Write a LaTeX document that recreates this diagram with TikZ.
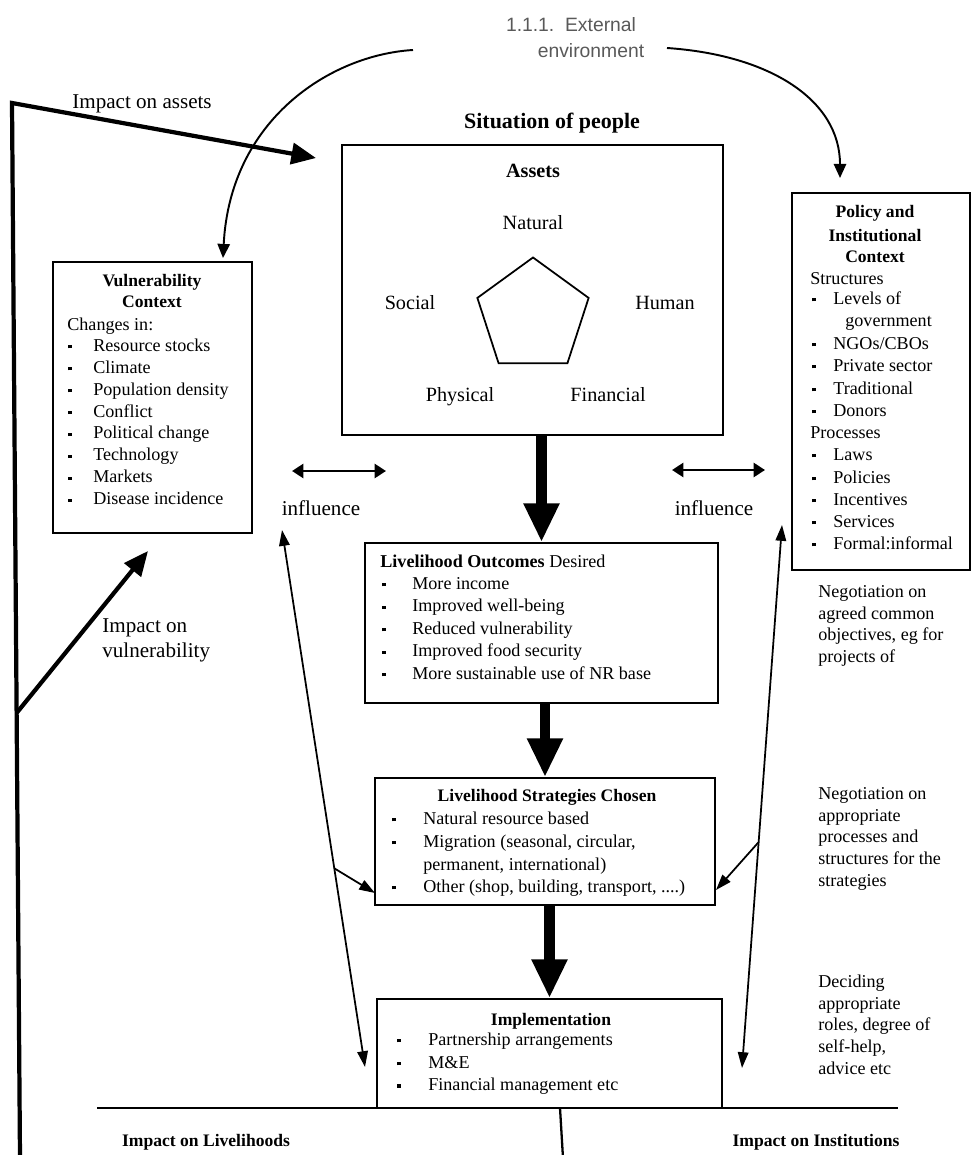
\documentclass[tikz,border=0pt]{standalone}
\usepackage{fontspec}
\setmainfont{Liberation Serif}
\newfontfamily\titlefont{Liberation Sans}
\usetikzlibrary{arrows.meta,shapes.geometric}
\newcommand{\bl}{\rule[0.35ex]{1.8pt}{1.8pt}}
\tikzset{
	box/.style 2 args={draw,line width=1pt,minimum width=#1*0.02cm,minimum height=#2*0.02cm,inner sep=0pt},
	txt/.style={inner sep=0pt,anchor=west,text height=7pt,text depth=2pt,font=\fontsize{10.3}{12}\selectfont},
	head/.style={inner sep=0pt,text height=7pt,text depth=2pt,font=\bfseries\fontsize{10}{12}\selectfont},
	lab/.style={inner sep=0pt,text height=8pt,text depth=2.5pt,font=\fontsize{11.5}{13}\selectfont},
	bigl/.style={inner sep=0pt,text height=8.5pt,text depth=2.5pt,font=\fontsize{12}{14}\selectfont},
	bigarrow/.style={line width=6pt,-{Triangle[length=22pt,width=19pt]}},
	heavy/.style={line width=2.4pt},
	thinline/.style={line width=1pt},
	infl/.style={line width=1.5pt,{Triangle[length=6.5pt,width=8pt]}-{Triangle[length=6.5pt,width=8pt]}},
	curv/.style={line width=1.1pt,-{Triangle[length=8pt,width=7pt]}}
}

\begin{document}
\begin{tikzpicture}[x=0.02cm,y=-0.02cm]
	\useasboundingbox (0,0) rectangle (973,1155);

	\node[inner sep=0pt,font=\titlefont\fontsize{11}{13}\selectfont,text=black!65] (ext1) at (571,25) {1.1.1.\ \ External};
	\node[inner sep=0pt,font=\titlefont\fontsize{11}{13}\selectfont,text=black!65] (ext2) at (591,51) {environment};
	\node[inner sep=0pt,font=\bfseries\fontsize{12.5}{14}\selectfont] (sit) at (552,123) {Situation of people};

	\node[box={199}{271}] (vuln) at (152.5,397.5) {};
	\node[box={381}{290}] (assets) at (532.5,290) {};
	\node[box={178}{377}] (policy) at (881,381.5) {};
	\node[box={353}{160}] (outc) at (541.5,623) {};
	\node[box={340}{127}] (strat) at (545,841.5) {};
	\node[box={345}{109}] (impl) at (549.5,1053.5) {};

	\node[head,font=\bfseries\fontsize{11.5}{13}\selectfont] (ast) at (533,173) {Assets};
	\node[draw,line width=1pt,regular polygon,regular polygon sides=5,minimum size=117*0.02cm,inner sep=0pt] (pent) at (533,316) {};
	\node[lab] (nat) at (533,225) {Natural};
	\node[lab] (soc) at (410,305) {Social};
	\node[lab] (hum) at (665,305) {Human};
	\node[lab] (phy) at (460,397) {Physical};
	\node[lab] (fin) at (608,397) {Financial};

	\node[head] (vt1) at (152,282) {Vulnerability};
	\node[head] (vt2) at (152,303) {Context};
	\node[txt] (vch) at (67,326) {Changes in:};
	\foreach \t [count=\i from 0] in {Resource stocks,Climate,Population density,Conflict,Political change,Technology,Markets,Disease incidence}{
		\node[txt] (vd\i) at (68,347+21.9*\i) {\bl};
		\node[txt] (vi\i) at (93,347+21.9*\i) {\t};
	}

	\node[head] (pt1) at (875,213) {Policy and};
	\node[head] (pt2) at (875,237) {Institutional};
	\node[head] (pt3) at (875,258) {Context};
	\node[txt] (pst) at (810,280) {Structures};
	\node[txt] (ppr) at (810,434) {Processes};
	\node[txt] (pgov) at (845,322) {government};
	\foreach \t/\y [count=\i] in {Levels of/300,NGOs\slash CBOs/345,Private sector/367,Traditional/390,Donors/412,Laws/456,Policies/479,Incentives/501,Services/523,Formal:informal/545}{
		\node[txt] (pd\i) at (812,\y) {\bl};
		\node[txt] (pi\i) at (833,\y) {\t};
	}

	\node[txt] (ot) at (380,563) {\textbf{Livelihood Outcomes} Desired};
	\foreach \t [count=\i from 0] in {More income,Improved well-being,Reduced vulnerability,Improved food security,More sustainable use of NR base}{
		\node[txt] (od\i) at (382,585+22.5*\i) {\bl};
		\node[txt] (oi\i) at (412,585+22.5*\i) {\t};
	}

	\node[head] (st) at (547,797) {Livelihood Strategies Chosen};
	\node[txt] (sd1) at (392,820) {\bl};
	\node[txt] (si1) at (423,820) {Natural resource based};
	\node[txt] (sd2) at (392,843) {\bl};
	\node[txt] (si2) at (423,843) {Migration (seasonal, circular,};
	\node[txt] (si2b) at (423,866) {permanent, international)};
	\node[txt] (sd3) at (392,888) {\bl};
	\node[txt] (si3) at (423,888) {Other (shop, building, transport, ....)};

	\node[head] (it) at (551,1021) {Implementation};
	\node[txt] (id1) at (397,1041) {\bl};
	\node[txt] (ii1) at (428,1041) {Partnership arrangements};
	\node[txt] (id2) at (397,1064) {\bl};
	\node[txt] (ii2) at (428,1064) {M\&E};
	\node[txt] (id3) at (397,1086) {\bl};
	\node[txt] (ii3) at (428,1086) {Financial management etc};

	\foreach \t [count=\i from 0] in {Negotiation on,agreed common,{objectives, eg for},projects of}
		\node[txt] (na\i) at (818,593+21.7*\i) {\t};
	\foreach \t [count=\i from 0] in {Negotiation on,appropriate,processes and,structures for the,strategies}
		\node[txt] (nb\i) at (818,795+21.7*\i) {\t};
	\foreach \t [count=\i from 0] in {Deciding,appropriate,{roles, degree of},{self-help,},advice etc}
		\node[txt] (nc\i) at (818,983+21.7*\i) {\t};

	\coordinate (ctop) at (12,103);
	\coordinate (cbot) at (20,1158);
	\coordinate (cbr) at (16.6,713);
	\coordinate (atip) at (316,158);
	\coordinate (vtip) at (148,551);
	\draw[heavy,-{Triangle[length=14pt,width=12pt]}] (cbot) -- (ctop) -- (atip);
	\draw[heavy,-{Triangle[length=14pt,width=12pt]}] (cbr) -- (vtip);
	\node[bigl] (ia) at (142,103) {Impact on assets};
	\node[bigl,anchor=west] (iv1) at (102,627) {Impact on};
	\node[bigl,anchor=west] (iv2) at (102,652) {vulnerability};

	\coordinate (c1s) at (413,50);
	\coordinate (vtop) at (223,258);
	\coordinate (c2s) at (667,48);
	\coordinate (ptop) at (840,178);
	\draw[curv] (c1s) .. controls (330,55) and (230,120) .. (vtop);
	\draw[curv] (c2s) .. controls (770,55) and (840,100) .. (ptop);

	\draw[bigarrow] (assets.south -| outc.north) -- (outc.north);
	\draw[bigarrow] (outc.south -| strat.north) -- (strat.north);
	\draw[bigarrow] (strat.south -| impl.north) -- (impl.north);

	\coordinate (il1) at (292,471);
	\coordinate (il2) at (386,471);
	\coordinate (ir1) at (672,470);
	\coordinate (ir2) at (765,470);
	\draw[infl] (il1) -- (il2);
	\draw[infl] (ir1) -- (ir2);
	\node[bigl] (inf1) at (321,510) {influence};
	\node[bigl] (inf2) at (714,510) {influence};

	\coordinate (lt) at (282,530);
	\coordinate (lb) at (365,1067);
	\coordinate (ls) at (375,893);
	\coordinate (rt) at (782,525);
	\coordinate (rb) at (742,1068);
	\coordinate (rs) at (716,890);
	\path (lt) -- (lb) coordinate[pos=0.63] (lm);
	\path (rt) -- (rb) coordinate[pos=0.584] (rm);
	\draw[thinline,{Triangle[length=9pt,width=6pt]}-{Triangle[length=9pt,width=6pt]}] (lt) -- (lb);
	\draw[thinline,{Triangle[length=9pt,width=6pt]}-{Triangle[length=9pt,width=6pt]}] (rt) -- (rb);
	\draw[thinline,-{Triangle[length=9pt,width=6pt]}] (lm) -- (ls);
	\draw[thinline,-{Triangle[length=9pt,width=6pt]}] (rm) -- (rs);

	\coordinate (hl) at (97,1108);
	\coordinate (hr) at (898,1108);
	\coordinate (vt) at (560,1108);
	\coordinate (vb) at (563,1158);
	\draw[line width=1.3pt] (hl) -- (hr);
	\draw[line width=1.3pt] (vt) -- (vb);
	\node[head] (il) at (206,1142) {Impact on Livelihoods};
	\node[head] (ins) at (816,1142) {Impact on Institutions};
\end{tikzpicture}
\end{document}
